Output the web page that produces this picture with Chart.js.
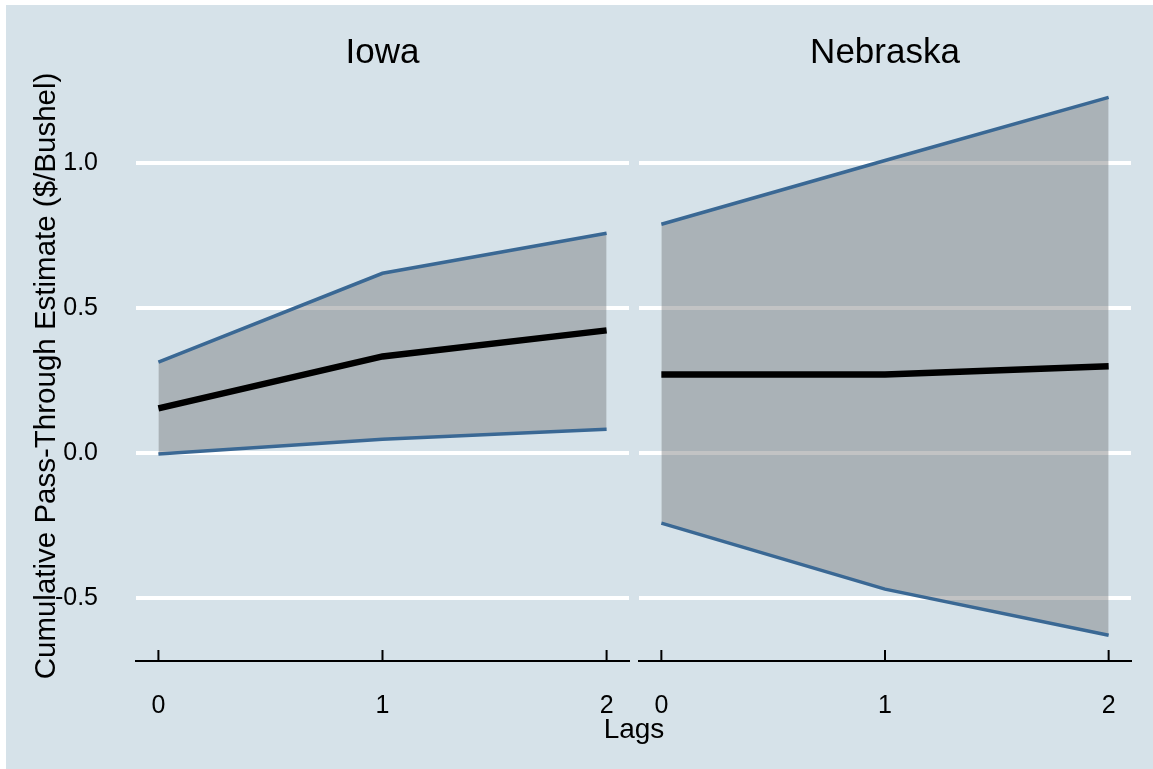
<!DOCTYPE html>
<html>
<head>
<meta charset="utf-8">
<script src="https://cdn.jsdelivr.net/npm/chart.js@4/dist/chart.umd.min.js"></script>
<style>
body{margin:0;background:#fff;}
#bg{position:absolute;left:6px;top:5px;width:1147px;height:764px;background:rgb(214,226,233);}
canvas{position:absolute;top:5px;}
#iowaChart{left:6px;}
#nebChart{left:634px;}
#xlab{position:absolute;left:534px;width:200px;top:715px;text-align:center;font:28px "Liberation Sans",Arial,sans-serif;line-height:27px;color:#000;}
</style>
</head>
<body>
<div id="bg"></div>
<canvas id="iowaChart" width="628" height="764"></canvas>
<canvas id="nebChart" width="519" height="764"></canvas>
<div id="xlab">Lags</div>
<script>
let lags=[0,1,2]
let yTicks=[-0.5,0,0.5,1]
let iowaEst=[0.155,0.334,0.424]
let iowaUpper=[0.314,0.621,0.759]
let iowaLower=[-0.003,0.048,0.083]
let nebEst=[0.272,0.272,0.300]
let nebUpper=[0.790,1.010,1.228]
let nebLower=[-0.241,-0.469,-0.628]

Chart.defaults.font.family='"Liberation Sans", Arial, sans-serif'
Chart.defaults.color='#000'

// stata style ticks point up into the plot
const upTicks={
    id:'upTicks',
    afterDraw(chart){
        let ctx=chart.ctx, sx=chart.scales.x, y0=sx.top
        ctx.save()
        ctx.strokeStyle='#000'
        ctx.lineWidth=2
        sx.ticks.forEach(t=>{
            let x=sx.getPixelForValue(t.value)
            ctx.beginPath()
            ctx.moveTo(x,y0)
            ctx.lineTo(x,y0-11)
            ctx.stroke()
        })
        ctx.restore()
    }
}

function pts(arr){
    return lags.map((x,i)=>({x:x,y:arr[i]}))
}

function makeChart(id,title,est,upper,lower,isLeft){
    let ctx=document.getElementById(id).getContext('2d')
    return new Chart(ctx,{
        type:'line',
        data:{
            datasets:[
                {label:'Estimate',data:pts(est),borderColor:'#000',borderWidth:6.5,pointRadius:0,fill:false},
                {label:'Upper',data:pts(upper),borderColor:'#3a6894',borderWidth:3.5,pointRadius:0,
                 fill:{target:2},backgroundColor:'rgba(110,112,115,0.42)'},
                {label:'Lower',data:pts(lower),borderColor:'#3a6894',borderWidth:3.5,pointRadius:0,fill:false}
            ]
        },
        options:{
            responsive:false,
            animation:false,
            layout:{padding:{right:isLeft?5:22}},
            plugins:{
                legend:{display:false},
                tooltip:{enabled:false},
                filler:{drawTime:'beforeDatasetsDraw'},
                title:{display:true,text:title,fullSize:false,color:'#000',
                    font:{size:35,weight:'normal'},padding:{top:27,bottom:17}}
            },
            scales:{
                x:{
                    type:'linear',min:-0.1,max:2.1,
                    afterBuildTicks:s=>{s.ticks=lags.map(v=>({value:v}))},
                    afterFit:s=>{s.height=108;s.paddingLeft=0;s.paddingRight=0},
                    grid:{display:false,drawTicks:false},
                    border:{display:true,color:'#000',width:2},
                    ticks:{padding:30,font:{size:25},maxRotation:0,callback:v=>String(v)}
                },
                y:{
                    type:'linear',min:-0.717,max:1.25,
                    afterBuildTicks:s=>{s.ticks=yTicks.map(v=>({value:v}))},
                    afterFit:s=>{s.width=isLeft?130:5},
                    grid:{color:'#fff',lineWidth:4,drawTicks:false},
                    border:{display:false},
                    ticks:{display:isLeft,padding:38,font:{size:25},callback:v=>v.toFixed(1)},
                    title:{display:isLeft,text:'Cumulative Pass-Through Estimate ($/Bushel)',
                        font:{size:29.5},padding:{top:23,bottom:0}}
                }
            }
        },
        plugins:[upTicks]
    })
}

let iowa=makeChart('iowaChart','Iowa',iowaEst,iowaUpper,iowaLower,true)
let neb=makeChart('nebChart','Nebraska',nebEst,nebUpper,nebLower,false)
</script>
</body>
</html>
